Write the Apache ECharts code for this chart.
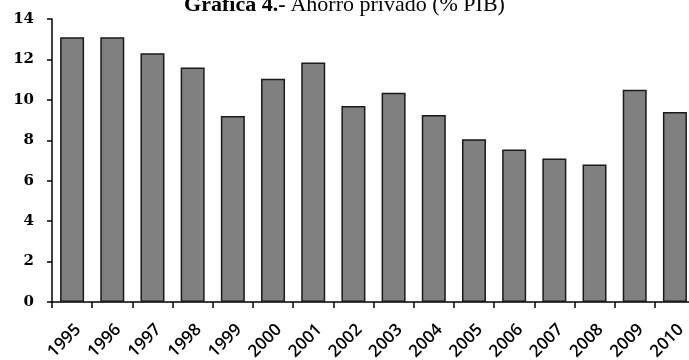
<!DOCTYPE html>
<html>
<head>
<meta charset="utf-8">
<style>
  html, body { margin: 0; padding: 0; background: #fff; }
  #chart { width: 689px; height: 360px; }
</style>
<script src="https://cdn.jsdelivr.net/npm/echarts@6/dist/echarts.min.js"></script>
</head>
<body>
<div id="chart"></div>
<script>
// Private saving as a share of GDP, by year
const years = ['1995','1996','1997','1998','1999','2000','2001','2002',
               '2003','2004','2005','2006','2007','2008','2009','2010'];
const ahorroPrivado = [13.1, 13.1, 12.3, 11.6, 9.2, 11.05, 11.85, 9.7,
                       10.35, 9.25, 8.05, 7.55, 7.1, 6.8, 10.5, 9.4];
const yTicks = [0, 2, 4, 6, 8, 10, 12, 14];

const chart = echarts.init(document.getElementById('chart'));
chart.setOption({
  animation: false,
  backgroundColor: '#ffffff',
  title: {
    text: '{b|Gráfica 4.-} {n|Ahorro privado (% PIB)}',
    left: 'center',
    top: -11,
    textStyle: {
      rich: {
        b: { fontFamily: 'Liberation Serif', fontWeight: 'bold', fontSize: 22, color: '#000' },
        n: { fontFamily: 'Liberation Serif', fontWeight: 'normal', fontSize: 22, color: '#000' }
      }
    }
  },
  grid: {
    left: 52, top: 19, width: 643, height: 283,
    containLabel: false,
    outerBoundsMode: 'none'
  },
  xAxis: {
    type: 'category',
    data: years,
    axisLine: { lineStyle: { color: '#000', width: 1.5 } },
    axisTick: { show: true, length: 6, lineStyle: { color: '#000', width: 1.5 } },
    axisLabel: {
      rotate: 45,
      margin: 19,
      verticalAlign: 'top',
      fontFamily: 'Open Sans',
      fontSize: 17,
      fontWeight: 600,
      color: '#000'
    },
    splitLine: { show: false }
  },
  yAxis: {
    type: 'value',
    min: yTicks[0],
    max: yTicks[yTicks.length - 1],
    interval: 2,
    axisLine: { show: true, lineStyle: { color: '#000', width: 1.5 } },
    axisTick: { show: true, length: 5, lineStyle: { color: '#000', width: 1.5 } },
    axisLabel: {
      margin: 18,
      fontFamily: 'DejaVu Serif',
      fontWeight: 'bold',
      fontSize: 15,
      color: '#000'
    },
    splitLine: { show: false }
  },
  series: [{
    type: 'bar',
    data: ahorroPrivado,
    barWidth: 24,
    itemStyle: { color: '#808080', borderColor: '#1a1a1a', borderWidth: 1.5 }
  }]
});
</script>
</body>
</html>
